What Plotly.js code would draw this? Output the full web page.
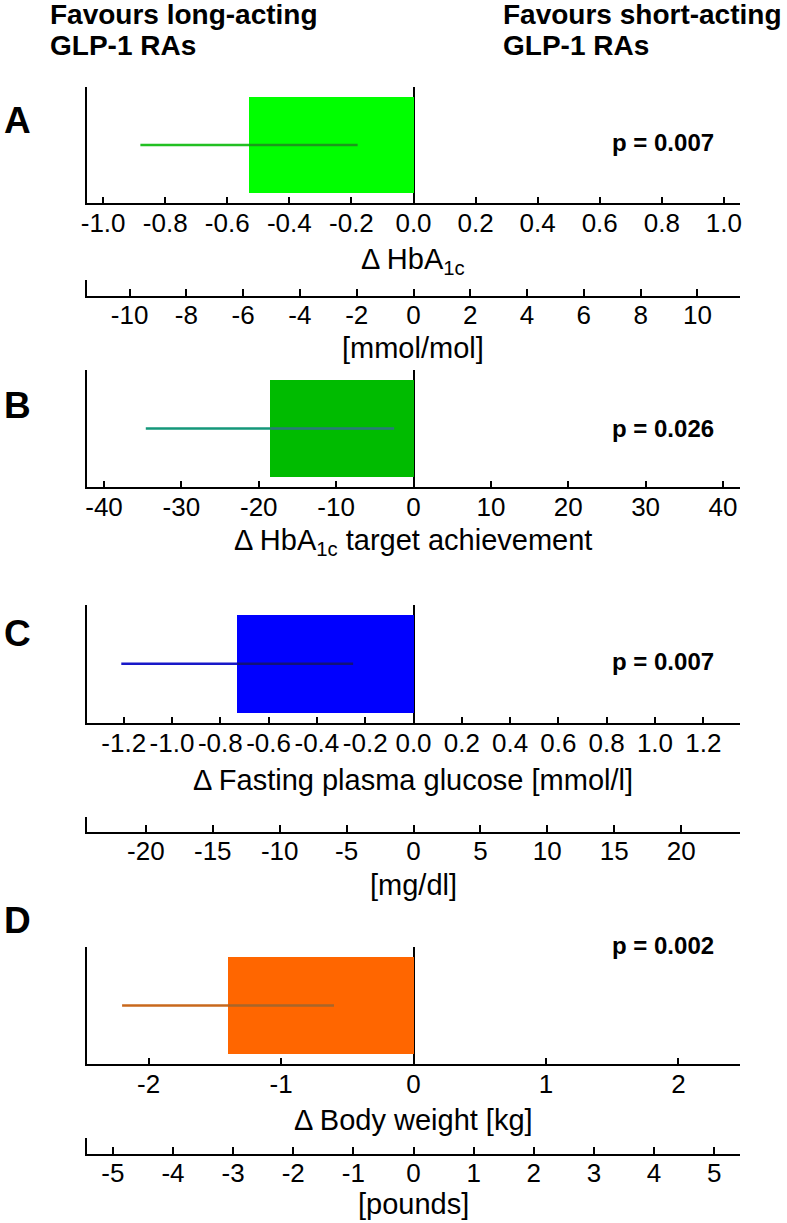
<!DOCTYPE html>
<html>
<head>
<meta charset="utf-8">
<script src="https://cdn.plot.ly/plotly-3.0.1.min.js"></script>
<style>html,body{margin:0;padding:0;background:#fff;}#chart{width:787px;height:1223px;}</style>
</head>
<body>
<div id="chart"></div>
<script>
// ---------- data ----------
const panelLetters = ["A", "B", "C", "D"];
const meanDiff = [-0.53, -18.5, -0.73, -1.40];
const ciLow = [-0.88, -34.6, -1.21, -2.20];
const ciHigh = [-0.18, -2.5, -0.25, -0.60];
const pValues = ["p = 0.007", "p = 0.026", "p = 0.007", "p = 0.002"];
const axisTitles = ["Δ HbA<sub>1c</sub>", "Δ HbA<sub>1c</sub> target achievement",
  "Δ Fasting plasma glucose [mmol/l]", "Δ Body weight [kg]"];
const secondaryTitles = ["[mmol/mol]", "[mg/dl]", "[pounds]"];
const headerLeft = ["Favours long-acting", "GLP-1 RAs"];
const headerRight = ["Favours short-acting", "GLP-1 RAs"];

const ticksA = [-1.0, -0.8, -0.6, -0.4, -0.2, 0, 0.2, 0.4, 0.6, 0.8, 1.0];
const tickTextA = ["-1.0", "-0.8", "-0.6", "-0.4", "-0.2", "0.0", "0.2", "0.4", "0.6", "0.8", "1.0"];
const ticksMmolMol = [-10, -8, -6, -4, -2, 0, 2, 4, 6, 8, 10];
const tickTextMmolMol = ["-10", "-8", "-6", "-4", "-2", "0", "2", "4", "6", "8", "10"];
const ticksB = [-40, -30, -20, -10, 0, 10, 20, 30, 40];
const tickTextB = ["-40", "-30", "-20", "-10", "0", "10", "20", "30", "40"];
const ticksC = [-1.2, -1.0, -0.8, -0.6, -0.4, -0.2, 0, 0.2, 0.4, 0.6, 0.8, 1.0, 1.2];
const tickTextC = ["-1.2", "-1.0", "-0.8", "-0.6", "-0.4", "-0.2", "0.0", "0.2", "0.4", "0.6", "0.8", "1.0", "1.2"];
const ticksMgDl = [-20, -15, -10, -5, 0, 5, 10, 15, 20];
const tickTextMgDl = ["-20", "-15", "-10", "-5", "0", "5", "10", "15", "20"];
const ticksD = [-2, -1, 0, 1, 2];
const tickTextD = ["-2", "-1", "0", "1", "2"];
const ticksPounds = [-5, -4, -3, -2, -1, 0, 1, 2, 3, 4, 5];
const tickTextPounds = ["-5", "-4", "-3", "-2", "-1", "0", "1", "2", "3", "4", "5"];

// ---------- style ----------
const barColors = ["#00ff00", "#00bb00", "#0000ff", "#ff6600"];
const ciOuterColors = ["#22c022", "#14977a", "#1818c8", "#c8681c"];
const ciInnerColors = ["#1c981c", "#2a7a78", "#12127a", "#a8662a"];
const FONT = "Liberation Sans, Arial, Helvetica, sans-serif";
const H = 1223, W = 787;
const px2y = p => 1 - p / H;
const xDom = [87 / W, 740 / W];

const primaryRanges = [[-1.052, 1.052], [-42.2, 42.2], [-1.352, 1.352], [-2.465, 2.465]];
const primaryTicks = [[ticksA, tickTextA], [ticksB, tickTextB], [ticksC, tickTextC], [ticksD, tickTextD]];
const primaryPix = [[87, 203], [370, 487], [605, 722.5], [947, 1064]];
const secondaryRanges = [[-11.5, 11.5], [-24.4, 24.4], [-5.43, 5.43]];
const secondaryTicks = [[ticksMmolMol, tickTextMmolMol], [ticksMgDl, tickTextMgDl], [ticksPounds, tickTextPounds]];
const secondaryPix = [[280, 296], [817, 832], [1138, 1153.5]];

const tickFont = {family: FONT, size: 26, color: "#000"};

const traces = [];
const layout = {
  width: W, height: H, margin: {l: 0, r: 0, t: 0, b: 0},
  paper_bgcolor: "#fff", plot_bgcolor: "rgba(0,0,0,0)",
  showlegend: false, font: {family: FONT, color: "#000"},
  annotations: [], bargap: 0
};

for (let i = 0; i < 4; i++) {
  const n = i + 1;
  const xa = "x" + (n === 1 ? "" : n), ya = "y" + (n === 1 ? "" : n);
  traces.push({
    type: "bar", orientation: "h", x: [meanDiff[i]], y: [0], width: [0.83],
    marker: {color: barColors[i], line: {width: 0}}, xaxis: xa, yaxis: ya, hoverinfo: "x"
  });
  traces.push({
    type: "scatter", mode: "lines", x: [ciLow[i], meanDiff[i]], y: [0, 0],
    line: {color: ciOuterColors[i], width: 2.5}, xaxis: xa, yaxis: ya
  });
  traces.push({
    type: "scatter", mode: "lines", x: [meanDiff[i], ciHigh[i]], y: [0, 0],
    line: {color: ciInnerColors[i], width: 2.5}, xaxis: xa, yaxis: ya
  });
  const [top, bot] = primaryPix[i];
  layout["xaxis" + (n === 1 ? "" : n)] = {
    domain: xDom, anchor: ya, range: primaryRanges[i],
    tickmode: "array", tickvals: primaryTicks[i][0], ticktext: primaryTicks[i][1],
    ticks: "inside", ticklen: 6, tickwidth: 2, tickcolor: "#000",
    showline: true, linewidth: 2, linecolor: "#000", showgrid: false,
    zeroline: true, zerolinecolor: "#000", zerolinewidth: 2,
    tickfont: tickFont, ticklabelstandoff: -4, fixedrange: true
  };
  layout["yaxis" + (n === 1 ? "" : n)] = {
    domain: [px2y(bot), px2y(top)], anchor: xa, range: [-0.5, 0.5],
    showline: true, linewidth: 2, linecolor: "#000", showgrid: false,
    zeroline: false, showticklabels: false, ticks: "", fixedrange: true
  };
  // panel letter
  layout.annotations.push({
    text: "<b>" + panelLetters[i] + "</b>", xref: "paper", yref: "paper",
    x: 17 / W, y: px2y([120, 405, 633, 920][i]), xanchor: "center", yanchor: "middle",
    showarrow: false, font: {family: FONT, size: 37, color: "#000"}
  });
  // p value
  layout.annotations.push({
    text: "<b>" + pValues[i] + "</b>", xref: "paper", yref: "paper",
    x: 716 / W, y: px2y([142, 428, 661, 945][i]), xanchor: "right", yanchor: "middle",
    showarrow: false, font: {family: FONT, size: 24, color: "#000"}
  });
  // axis title
  layout.annotations.push({
    text: axisTitles[i], xref: "paper", yref: "paper",
    x: 413 / W, y: px2y([261, 542, 780, 1120][i]), xanchor: "center", yanchor: "middle",
    showarrow: false, font: {family: FONT, size: 29, color: "#000"}
  });
}

// secondary unit axes
for (let j = 0; j < 3; j++) {
  const n = 5 + j;
  const xa = "x" + n, ya = "y" + n;
  traces.push({type: "scatter", mode: "markers", x: [], y: [], xaxis: xa, yaxis: ya, hoverinfo: "skip"});
  const [top, bot] = secondaryPix[j];
  layout["xaxis" + n] = {
    domain: xDom, anchor: ya, range: secondaryRanges[j],
    tickmode: "array", tickvals: secondaryTicks[j][0], ticktext: secondaryTicks[j][1],
    ticks: "inside", ticklen: 7, tickwidth: 2, tickcolor: "#000",
    showline: true, linewidth: 2, linecolor: "#000", showgrid: false, zeroline: false,
    tickfont: tickFont, ticklabelstandoff: -5, fixedrange: true
  };
  layout["yaxis" + n] = {
    domain: [px2y(bot), px2y(top)], anchor: xa, range: [0, 1],
    showline: true, linewidth: 2, linecolor: "#000", showgrid: false,
    zeroline: false, showticklabels: false, ticks: "", fixedrange: true
  };
  layout.annotations.push({
    text: secondaryTitles[j], xref: "paper", yref: "paper",
    x: 413 / W, y: px2y([348, 885, 1204][j]), xanchor: "center", yanchor: "middle",
    showarrow: false, font: {family: FONT, size: 29, color: "#000"}
  });
}

// headers
const headerRowsY = [15, 46];
for (let r = 0; r < 2; r++) {
  layout.annotations.push({
    text: "<b>" + headerLeft[r] + "</b>", xref: "paper", yref: "paper",
    x: 48 / W, y: px2y(headerRowsY[r]), xanchor: "left", yanchor: "middle", align: "left",
    showarrow: false, font: {family: FONT, size: 28, color: "#000"}
  });
  layout.annotations.push({
    text: "<b>" + headerRight[r] + "</b>", xref: "paper", yref: "paper",
    x: 501 / W, y: px2y(headerRowsY[r]), xanchor: "left", yanchor: "middle", align: "left",
    showarrow: false, font: {family: FONT, size: 28, color: "#000"}
  });
}

Plotly.newPlot("chart", traces, layout, {staticPlot: true, displayModeBar: false});
</script>
</body>
</html>
